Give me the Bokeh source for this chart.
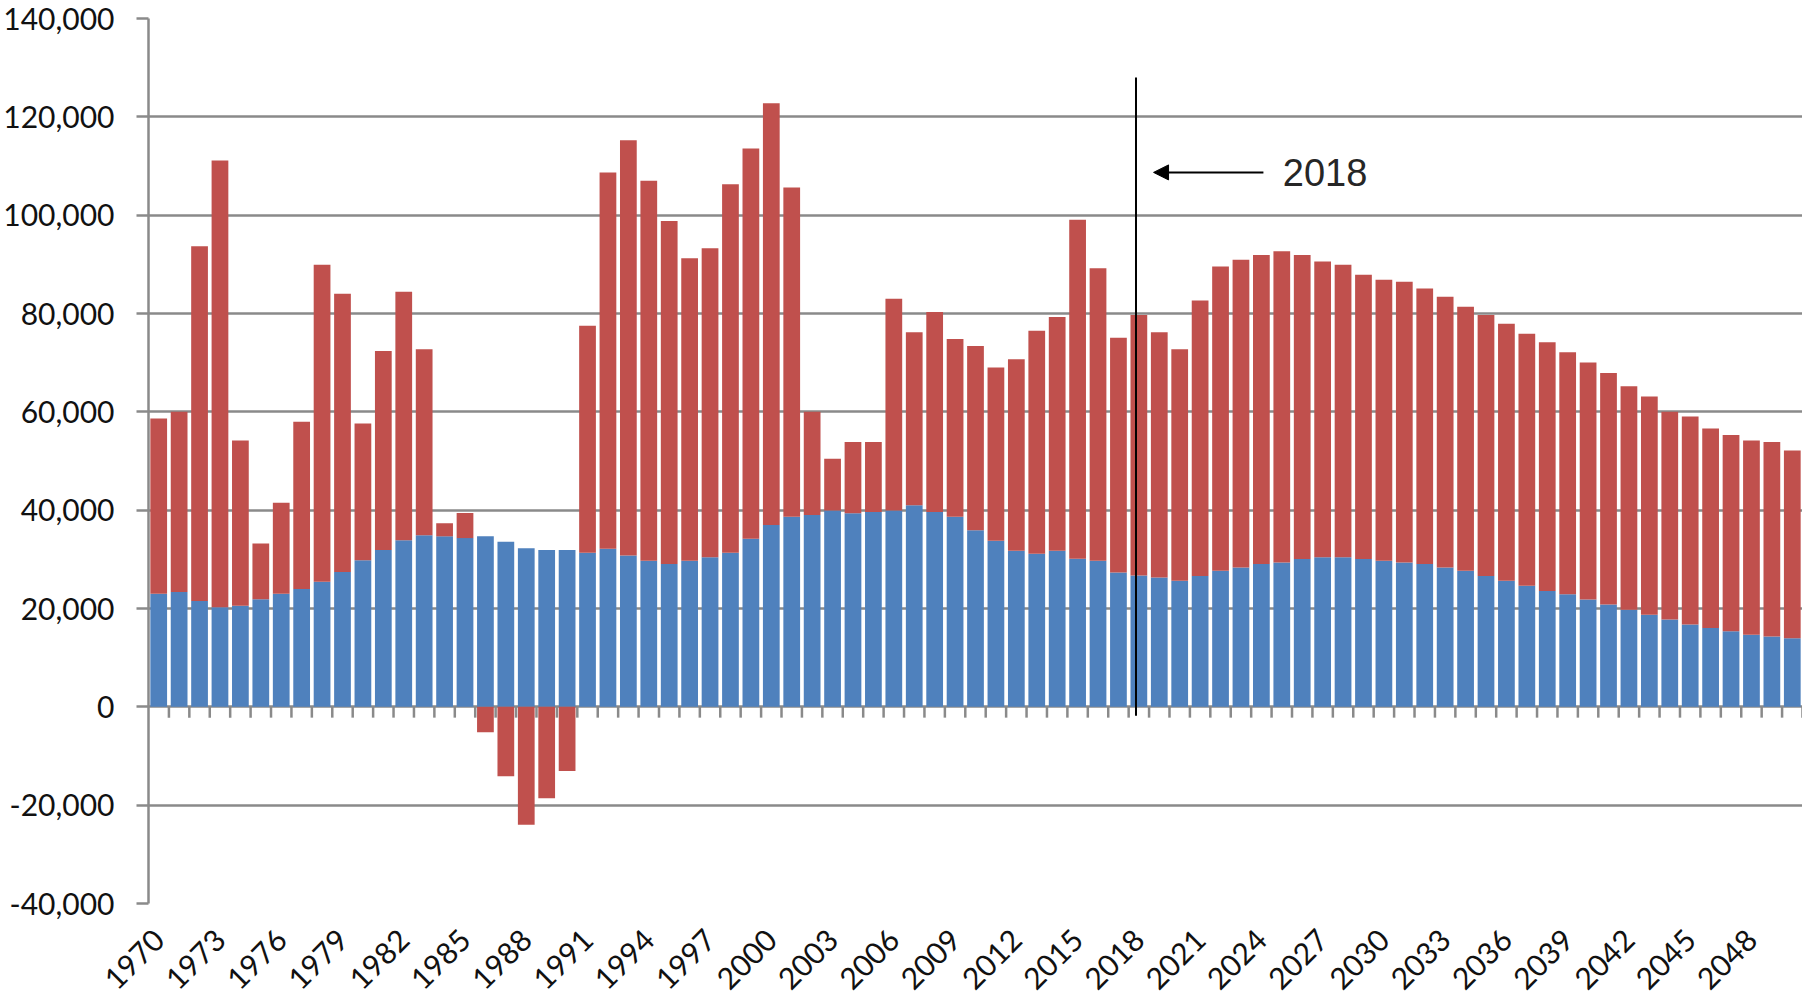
import numpy as np
from math import pi
from bokeh.plotting import figure
from bokeh.models import Range1d, FixedTicker, NumeralTickFormatter, Arrow, NormalHead, Label
from bokeh.embed import file_html
from bokeh.resources import INLINE

# ---- data -------------------------------------------------------------
years = list(range(1970, 2051))

natural = [
    22980, 23340, 21540, 20250, 20540, 21900, 22980, 23980, 25420, 27430,   # 1970-1979
    29800, 31880, 33890, 34900, 34680, 34320, 34680, 33600, 32240, 31880,   # 1980-1989
    31880, 31340, 32130, 30770, 29700, 29050, 29700, 30410, 31340, 34200,   # 1990-1999
    37000, 38640, 39000, 39930, 39360, 39640, 39930, 41000, 39640, 38640,   # 2000-2009
    35920, 33780, 31770, 31130, 31770, 30130, 29700, 27340, 26690, 26330,   # 2010-2019
    25620, 26620, 27690, 28340, 29050, 29340, 30060, 30410, 30410, 30060,   # 2020-2029
    29700, 29340, 29050, 28340, 27690, 26620, 25620, 24620, 23540, 22900,   # 2030-2039
    21830, 20820, 19750, 18750, 17750, 16745, 16030, 15385, 14670, 14310,   # 2040-2049
    13950,                                                                  # 2050
]

migration = [
    35670, 36660, 72140, 90880, 33650, 11340, 18520, 34000, 64470, 56580,   # 1970-1979
    27840, 40500, 50530, 37820, 2660, 5100, -5170, -14140, -23980, -18600,  # 1980-1989
    -13070, 46160, 76570, 84480, 77300, 69750, 61550, 62860, 74960, 79360,  # 1990-1999
    85760, 67010, 21000, 10540, 14490, 14210, 43070, 35170, 40650, 36170,   # 2000-2009
    37470, 35220, 38920, 45370, 47510, 68960, 59520, 47745, 52990, 49840,   # 2010-2019
    47100, 56040, 61860, 62570, 62870, 63330, 61860, 60160, 59480, 57800,   # 2020-2029
    57150, 57100, 56040, 55060, 53680, 53060, 52300, 51280, 50600, 49210,   # 2030-2039
    48180, 47100, 45460, 44370, 42250, 42315, 40600, 39885, 39520, 39540,   # 2040-2049
    38210,                                                                  # 2050
]

y_ticks = list(range(-40000, 140001, 20000))
x_label_years = list(range(1970, 2049, 3))
marker_year = 2018
marker_label = "2018"

# ---- styles -----------------------------------------------------------
BLUE = "#4F81BD"
RED = "#C0504D"
GRID = "#8A8A8A"
FONT = "Lato"

p = figure(width=1802, height=1004, output_backend="svg", toolbar_location=None,
           x_range=Range1d(years[0] - 0.5, years[-1] + 0.5),
           y_range=Range1d(-40000, 140000),
           min_border_left=147, min_border_right=0, min_border_top=18, min_border_bottom=101)
p.outline_line_color = None
p.background_fill_color = "white"
p.border_fill_color = "white"

nat = np.array(natural, dtype=float)
mig = np.array(migration, dtype=float)
red_bottom = np.where(mig >= 0, nat, 0.0)
red_top = red_bottom + mig

p.vbar(x=years, bottom=0, top=nat, width=0.82, fill_color=BLUE, line_color=None)
p.vbar(x=years, bottom=red_bottom, top=red_top, width=0.82, fill_color=RED, line_color=None)

# category tick marks hanging below the zero line
bounds = np.array(years, dtype=float) + 0.5
p.segment(x0=bounds, y0=np.zeros_like(bounds), x1=bounds, y1=np.full_like(bounds, -2200.0),
          line_color=GRID, line_width=2.5)

# 2018 marker line, arrow and label
p.segment(x0=[marker_year - 0.14], y0=[128000], x1=[marker_year - 0.14], y1=[-1800],
          line_color="black", line_width=2)
p.add_layout(Arrow(end=NormalHead(size=15, fill_color="black", line_color="black"),
                   x_start=marker_year + 6.1, y_start=108700,
                   x_end=marker_year + 0.72, y_end=108700,
                   line_color="black", line_width=2))
p.add_layout(Label(x=marker_year + 7.05, y=108700, text=marker_label,
                   text_font="Liberation Sans", text_font_size="38px",
                   text_color="#262626", text_baseline="middle", text_align="left"))

# y axis
p.yaxis.ticker = FixedTicker(ticks=y_ticks)
p.yaxis.formatter = NumeralTickFormatter(format="0,0")
p.yaxis.axis_line_color = GRID
p.yaxis.axis_line_width = 2.5
p.yaxis.major_tick_line_color = GRID
p.yaxis.major_tick_line_width = 2.5
p.yaxis.major_tick_out = 12
p.yaxis.major_tick_in = 0
p.yaxis.minor_tick_line_color = None
p.yaxis.major_label_standoff = 22
p.yaxis.major_label_text_font = FONT
p.yaxis.major_label_text_font_size = "30px"
p.yaxis.major_label_text_color = "#111111"

p.ygrid.ticker = FixedTicker(ticks=y_ticks)
p.ygrid.grid_line_color = GRID
p.ygrid.grid_line_width = 2.5
p.xgrid.grid_line_color = None

# x axis
p.xaxis.ticker = FixedTicker(ticks=x_label_years)
p.xaxis.axis_line_color = None
p.xaxis.major_tick_line_color = None
p.xaxis.minor_tick_line_color = None
p.xaxis.major_tick_out = 0
p.xaxis.major_label_orientation = pi / 4
p.xaxis.major_label_standoff = 31
p.xaxis.major_label_text_font = FONT
p.xaxis.major_label_text_font_size = "30px"
p.xaxis.major_label_text_color = "#111111"

open("out.html", "w").write(file_html(p, INLINE))
